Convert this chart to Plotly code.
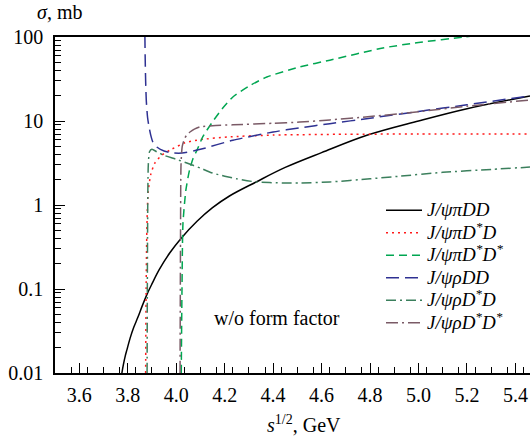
import plotly.graph_objects as go

# --- data (sqrt(s) in GeV, sigma in mb) ---
black_x = [3.776, 3.782, 3.79, 3.797, 3.81, 3.825, 3.842, 3.86, 3.88, 3.9, 3.93, 3.974, 4.02, 4.086, 4.15, 4.22, 4.33, 4.45, 4.6, 4.79, 5.0, 5.2, 5.46]
black_y = [0.01, 0.0125, 0.016, 0.019, 0.026, 0.035, 0.046, 0.063, 0.087, 0.115, 0.17, 0.27, 0.4, 0.64, 0.93, 1.28, 1.88, 2.8, 4.2, 6.8, 10.0, 14.0, 19.9]

red_x = [3.874, 3.876, 3.879, 3.884, 3.895, 3.912, 3.94, 3.974, 4.036, 4.1, 4.21, 4.4, 4.7, 5.0, 5.46]
red_y = [0.01, 0.1, 0.5, 1.39, 2.3, 3.16, 3.9, 4.5, 5.5, 6.0, 6.45, 6.8, 6.95, 7.0, 7.0]

green_x = [4.021, 4.024, 4.028, 4.04, 4.055, 4.07, 4.086, 4.11, 4.147, 4.19, 4.234, 4.3, 4.374, 4.51, 4.634, 4.853, 5.0, 5.19, 5.3]
green_y = [0.01, 0.1, 0.6, 1.5, 2.6, 3.6, 4.5, 6.5, 9.5, 14, 19.3, 26, 33.4, 44, 53, 74, 86, 100, 110]

blue_x = [3.8705, 3.871, 3.872, 3.874, 3.877, 3.882, 3.888, 3.895, 3.904, 3.92, 3.95, 3.982, 4.024, 4.1, 4.234, 4.4, 4.51, 4.634, 4.8, 5.0, 5.2, 5.46]
blue_y = [300, 100, 60, 30, 17, 11, 8.5, 6.8, 5.6, 4.9, 4.4, 4.17, 4.15, 4.6, 5.9, 7.4, 8.3, 9.3, 10.8, 13.0, 15.6, 19.9]

gdd_x = [3.880, 3.882, 3.885, 3.89, 3.90, 3.92, 3.95, 4.0, 4.044, 4.1, 4.15, 4.25, 4.33, 4.44, 4.51, 4.634, 4.8, 4.92, 5.1, 5.3, 5.46]
gdd_y = [0.01, 0.5, 3.0, 4.3, 4.6, 4.3, 3.9, 3.5, 3.16, 2.75, 2.4, 2.05, 1.88, 1.83, 1.83, 1.88, 2.05, 2.2, 2.45, 2.65, 2.83]

brown_x = [4.016, 4.018, 4.02, 4.025, 4.035, 4.045, 4.057, 4.075, 4.098, 4.15, 4.234, 4.4, 4.51, 4.634, 4.8, 5.0, 5.2, 5.46]
brown_y = [0.01, 0.5, 3.0, 5.0, 6.2, 6.9, 7.4, 8.0, 8.5, 8.8, 9.0, 9.4, 9.7, 10.3, 11.3, 12.9, 15.0, 17.8]

names = ["J/ψπDD", "J/ψπD<sup>*</sup>D", "J/ψπD<sup>*</sup>D<sup>*</sup>",
         "J/ψρDD", "J/ψρD<sup>*</sup>D", "J/ψρD<sup>*</sup>D<sup>*</sup>"]

x_ticks = [3.6, 3.8, 4.0, 4.2, 4.4, 4.6, 4.8, 5.0, 5.2, 5.4]
y_ticks = [0.01, 0.1, 1, 10, 100]
y_ticktext = ["0.01", "0.1", "1", "10", "100"]

series = [
    (black_x, black_y, "#000000", "solid", 1.0),
    (red_x, red_y, "#ff1a1a", "2px,4px", 0.6),
    (green_x, green_y, "#00a651", "8px,5px", 0.6),
    (blue_x, blue_y, "#2e3192", "13px,6px", 0.6),
    (gdd_x, gdd_y, "#3b7f5c", "10px,4px,2px,4px", 0.6),
    (brown_x, brown_y, "#7a5a66", "12px,4px,2px,4px", 0.6),
]

FONT = "Liberation Serif"
fig = go.Figure()
for (xs, ys, col, dash, sm), nm in zip(series, names):
    fig.add_trace(go.Scatter(
        x=xs, y=ys, mode="lines", name="<span style='font-size:19px'><i>" + nm + "</i></span>",
        line=dict(color=col, width=1.5, dash=dash, shape="spline", smoothing=sm)))

x_minor = [round(3.5 + i * 0.2 / 3, 4) for i in range(0, 30) if 3.5 + i * 0.2 / 3 < 5.46]
y_minor = [k * 10 ** d for d in (-2, -1, 0, 1) for k in range(2, 10)]

fig.update_layout(
    width=530, height=441,
    margin=dict(l=55, r=0, t=37, b=68),
    paper_bgcolor="white", plot_bgcolor="white",
    font=dict(family=FONT, size=20, color="black"),
    showlegend=True,
    legend=dict(x=(381 - 55) / 475, xanchor="left", y=1 - (194 - 37) / 336, yanchor="top",
                bgcolor="rgba(0,0,0,0)", font=dict(size=15, family=FONT), itemwidth=36),
    xaxis=dict(range=[3.5, 5.46], tickvals=x_ticks, tickformat=".1f",
               ticks="inside", ticklen=10, tickwidth=1.2, tickcolor="black",
               showline=True, linecolor="black", linewidth=1.5, mirror=True,
               showgrid=False, zeroline=False, ticklabelstandoff=3,
               tickfont=dict(family=FONT, size=20),
               minor=dict(tickvals=x_minor, ticks="inside", ticklen=6, tickwidth=1.2,
                          tickcolor="black", showgrid=False)),
    yaxis=dict(type="log", range=[-2, 2], tickvals=y_ticks, ticktext=y_ticktext,
               ticks="inside", ticklen=10, tickwidth=1.2, tickcolor="black",
               showline=True, linecolor="black", linewidth=1.5,
               showgrid=False, zeroline=False, ticklabelstandoff=6,
               tickfont=dict(family=FONT, size=20),
               minor=dict(tickvals=y_minor, ticks="inside", ticklen=6, tickwidth=1.2,
                          tickcolor="black", showgrid=False)),
    annotations=[
        dict(text="<i>σ</i>, mb", xref="paper", yref="paper", x=(59 - 55) / 475,
             y=1 + (37 - 12) / 336, xanchor="center", yanchor="middle", showarrow=False,
             font=dict(size=20, family=FONT)),
        dict(text="<i>s</i><sup>1/2</sup>, GeV", xref="paper", yref="paper",
             x=(304 - 55) / 475, y=(373 - 424) / 336, xanchor="center", yanchor="middle",
             showarrow=False, font=dict(size=20, family=FONT)),
        dict(text="w/o form factor", xref="paper", yref="paper",
             x=(277 - 55) / 475, y=(373 - 318) / 336, xanchor="center", yanchor="middle",
             showarrow=False, font=dict(size=20, family=FONT)),
    ],
)

fig.write_html("out.html")
